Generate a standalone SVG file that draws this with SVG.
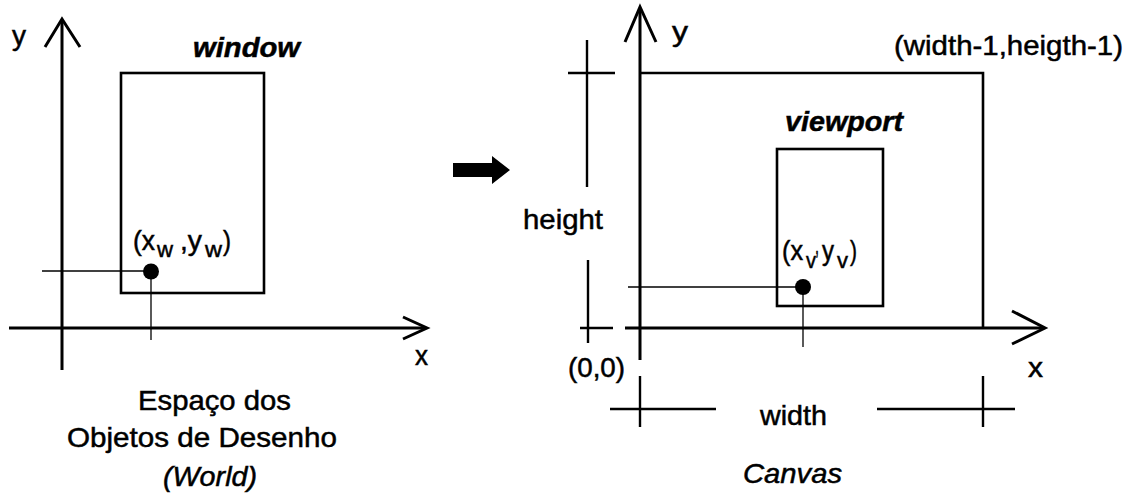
<svg xmlns="http://www.w3.org/2000/svg" width="1131" height="497" viewBox="0 0 1131 497">
<style>
  .ax{stroke:#000;stroke-width:3;fill:none;stroke-linecap:butt;stroke-linejoin:miter}
  .bx{stroke:#000;stroke-width:2.6;fill:none}
  .thin{stroke:#000;stroke-width:1.3;fill:none}
  .dim{stroke:#000;stroke-width:2.4;fill:none}
  text{font-family:"Liberation Sans",Arial,sans-serif;font-size:28px;fill:#000;stroke:#000;stroke-width:0.5}
  .sub{font-size:22px}
  .bi{font-weight:bold;font-style:italic}
  .it{font-style:italic}
</style>
<rect width="1131" height="497" fill="#fff"/>

<g id="world">
  <g id="world-axes">
    <line class="ax" x1="62" y1="21" x2="62" y2="370"/>
    <polyline class="ax" points="45,47 62,19 80,47"/>
    <line class="ax" x1="9" y1="328" x2="425" y2="328"/>
    <polyline class="ax" points="403,317 427,328 403,339"/>
    <text x="12" y="45" textLength="14" lengthAdjust="spacingAndGlyphs">y</text>
    <text x="415" y="365" textLength="13" lengthAdjust="spacingAndGlyphs">x</text>
  </g>
  <g id="window">
    <rect class="bx" x="121" y="73" width="143" height="220"/>
    <text class="bi" x="193" y="57" textLength="107" lengthAdjust="spacingAndGlyphs">window</text>
  </g>
  <g id="point-w">
    <line class="thin" x1="42" y1="271" x2="151" y2="271"/>
    <line class="thin" x1="151" y1="271" x2="151" y2="340"/>
    <circle cx="151" cy="271.5" r="8" fill="#000"/>
    <text x="133" y="250" textLength="22" lengthAdjust="spacingAndGlyphs">(x</text>
    <text class="sub" x="157" y="257" textLength="16" lengthAdjust="spacingAndGlyphs">w</text>
    <text x="180" y="250" textLength="22" lengthAdjust="spacingAndGlyphs"> ,y</text>
    <text class="sub" x="205" y="257" textLength="17" lengthAdjust="spacingAndGlyphs">w</text>
    <text x="223" y="250" textLength="8" lengthAdjust="spacingAndGlyphs">)</text>
  </g>
  <g id="world-caption">
    <text x="138" y="410" textLength="153" lengthAdjust="spacingAndGlyphs">Espaço dos</text>
    <text x="67" y="447" textLength="270" lengthAdjust="spacingAndGlyphs">Objetos de Desenho</text>
    <text class="it" x="163" y="486" textLength="94" lengthAdjust="spacingAndGlyphs">(World)</text>
  </g>
</g>

<g id="connectors">
  <polygon points="453,163 492,163 492,156 510,170 492,184 492,177 453,177" fill="#000"/>
</g>

<g id="canvas">
  <g id="canvas-axes">
    <line class="ax" x1="640" y1="9" x2="640" y2="360"/>
    <polyline class="ax" points="625,42 640,7 656,42"/>
    <line class="ax" x1="625" y1="328" x2="1043" y2="328"/>
    <polyline class="ax" points="1012,311 1045,328 1012,344"/>
    <text x="672" y="41" textLength="16" lengthAdjust="spacingAndGlyphs">y</text>
    <text x="1028" y="377" textLength="15" lengthAdjust="spacingAndGlyphs">x</text>
  </g>
  <g id="canvas-frame">
    <polyline class="bx" points="640,73 983,73 983,328"/>
    <text x="894" y="55" textLength="229" lengthAdjust="spacingAndGlyphs">(width-1,heigth-1)</text>
    <text x="568" y="377" textLength="57" lengthAdjust="spacingAndGlyphs">(0,0)</text>
  </g>
  <g id="height-dim">
    <line class="dim" x1="587" y1="40" x2="587" y2="187"/>
    <line class="dim" x1="568" y1="73" x2="615" y2="73"/>
    <line class="dim" x1="588" y1="260" x2="588" y2="343"/>
    <line class="dim" x1="580" y1="328" x2="613" y2="328"/>
    <text x="523" y="229" textLength="80" lengthAdjust="spacingAndGlyphs">height</text>
  </g>
  <g id="width-dim">
    <line class="dim" x1="640" y1="376" x2="640" y2="427"/>
    <line class="dim" x1="610" y1="409" x2="716" y2="409"/>
    <line class="dim" x1="877" y1="409" x2="1015" y2="409"/>
    <line class="dim" x1="983" y1="376" x2="983" y2="427"/>
    <text x="760" y="425" textLength="67" lengthAdjust="spacingAndGlyphs">width</text>
  </g>
  <g id="viewport">
    <rect class="bx" x="777" y="149" width="106" height="157"/>
    <text class="bi" x="785" y="131" textLength="118" lengthAdjust="spacingAndGlyphs">viewport</text>
  </g>
  <g id="point-v">
    <line class="thin" x1="628" y1="287" x2="803" y2="287"/>
    <line class="thin" x1="803" y1="287" x2="803" y2="347"/>
    <circle cx="803" cy="287" r="8" fill="#000"/>
    <text x="782" y="260" textLength="21" lengthAdjust="spacingAndGlyphs">(x</text>
    <text class="sub" x="806" y="268" textLength="10" lengthAdjust="spacingAndGlyphs">v</text>
    <text x="815" y="254" textLength="4" lengthAdjust="spacingAndGlyphs">,</text>
    <text x="822" y="260" textLength="12" lengthAdjust="spacingAndGlyphs">y</text>
    <text class="sub" x="837" y="268" textLength="11" lengthAdjust="spacingAndGlyphs">v</text>
    <text x="850" y="260" textLength="7" lengthAdjust="spacingAndGlyphs">)</text>
  </g>
  <g id="canvas-caption">
    <text class="it" x="743" y="483" textLength="99" lengthAdjust="spacingAndGlyphs">Canvas</text>
  </g>
</g>
</svg>
